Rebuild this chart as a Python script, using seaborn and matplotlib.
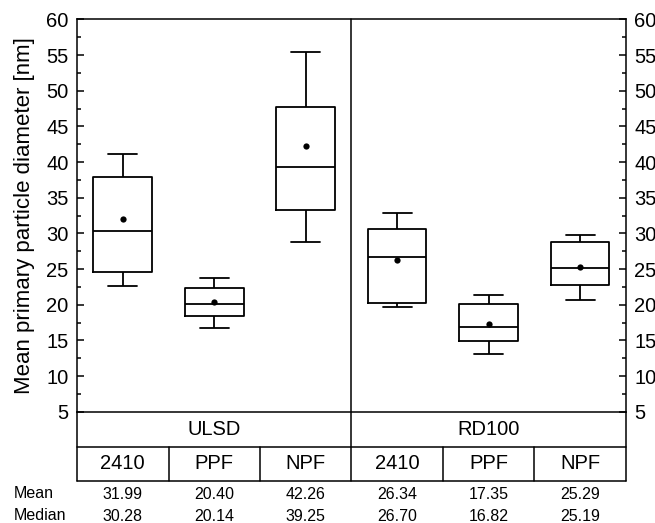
import numpy as np
import pandas as pd
import matplotlib
matplotlib.use("Agg")
import matplotlib.pyplot as plt
import seaborn as sns
from matplotlib.ticker import MultipleLocator

# fuels / filter configurations
fuels = ["ULSD", "RD100"]
setups = ["2410", "PPF", "NPF"]

# five-number summaries (whisker low, Q1, median, Q3, whisker high)
whisker_low = [22.6, 16.8, 28.85, 19.7, 13.1, 20.6]
q1 = [24.6, 18.35, 33.3, 20.3, 14.9, 22.8]
median = [30.28, 20.14, 39.25, 26.70, 16.82, 25.19]
q3 = [37.95, 22.3, 47.75, 30.6, 20.1, 28.85]
whisker_high = [41.2, 23.75, 55.5, 32.9, 21.4, 29.8]
mean = [31.99, 20.40, 42.26, 26.34, 17.35, 25.29]

cats = [f"{f} {s}" for f in fuels for s in setups]

# long table, one row per summary value, so seaborn's boxplot gives these stats back
rows = []
for i, c in enumerate(cats):
    for v in (whisker_low[i], q1[i], median[i], q3[i], whisker_high[i]):
        rows.append({"cat": c, "val": v})
df = pd.DataFrame(rows)

sns.set_style("ticks")
plt.rcParams["font.family"] = ["Liberation Sans", "DejaVu Sans"]
plt.rcParams["text.color"] = "black"
plt.rcParams["axes.labelcolor"] = "black"
plt.rcParams["xtick.color"] = "black"
plt.rcParams["ytick.color"] = "black"

fig = plt.figure(figsize=(6.55, 5.23), dpi=100)
ax = fig.add_axes([0.1176, 0.2128, 0.838, 0.750])

sns.boxplot(data=df, x="cat", y="val", order=cats, fill=False, color="black",
            width=0.64, whis=(0, 100), linewidth=1.3, ax=ax)
sns.stripplot(x=cats, y=mean, order=cats, jitter=False, color="black",
              size=4.5, ax=ax, zorder=5)

ax.set_xlim(-0.5, len(cats) - 0.5)
ax.set_ylim(5, 60)
ax.yaxis.set_major_locator(MultipleLocator(5))
ax.yaxis.set_minor_locator(MultipleLocator(2.5))
ax.tick_params(axis="y", which="both", direction="in", left=True, right=True,
               labelleft=True, labelright=True, labelsize=14.5, pad=6, width=1.1)
ax.tick_params(axis="y", which="major", length=5)
ax.tick_params(axis="y", which="minor", length=3)
ax.tick_params(axis="x", bottom=False, labelbottom=False)
ax.set_xlabel("")
ax.set_ylabel("Mean primary particle diameter [nm]", fontsize=16, labelpad=8)
for sp in ax.spines.values():
    sp.set_linewidth(1.1)
    sp.set_color("black")

# table below the plot: x in data, y in axes units
tr = ax.get_xaxis_transform()
row1 = -0.0892
row2 = -0.1766
lk = dict(color="black", lw=1.1, transform=tr, clip_on=False)
ax.plot([2.5, 2.5], [1, row2], **lk)
ax.plot([-0.5, -0.5], [0, row2], **lk)
ax.plot([5.5, 5.5], [0, row2], **lk)
ax.plot([-0.5, 5.5], [row1, row1], **lk)
ax.plot([-0.5, 5.5], [row2, row2], **lk)
for xd in (0.5, 1.5, 3.5, 4.5):
    ax.plot([xd, xd], [row1, row2], **lk)

for j, f in enumerate(fuels):
    ax.text(j * 3 + 1, row1 / 2, f, transform=tr, ha="center", va="center",
            fontsize=14.5)
for i, c in enumerate(cats):
    ax.text(i, (row1 + row2) / 2, setups[i % 3], transform=tr, ha="center",
            va="center", fontsize=14.5)
    ax.text(i, -0.212, f"{mean[i]:.2f}", transform=tr, ha="center",
            va="center", fontsize=11.5)
    ax.text(i, -0.2675, f"{median[i]:.2f}", transform=tr, ha="center",
            va="center", fontsize=11.5)

fig.text(0.021, 1 - 494 / 523, "Mean", ha="left", va="center", fontsize=11.5)
fig.text(0.021, 1 - 516 / 523, "Median", ha="left", va="center", fontsize=11.5)

fig.savefig("out.png", dpi=100)
